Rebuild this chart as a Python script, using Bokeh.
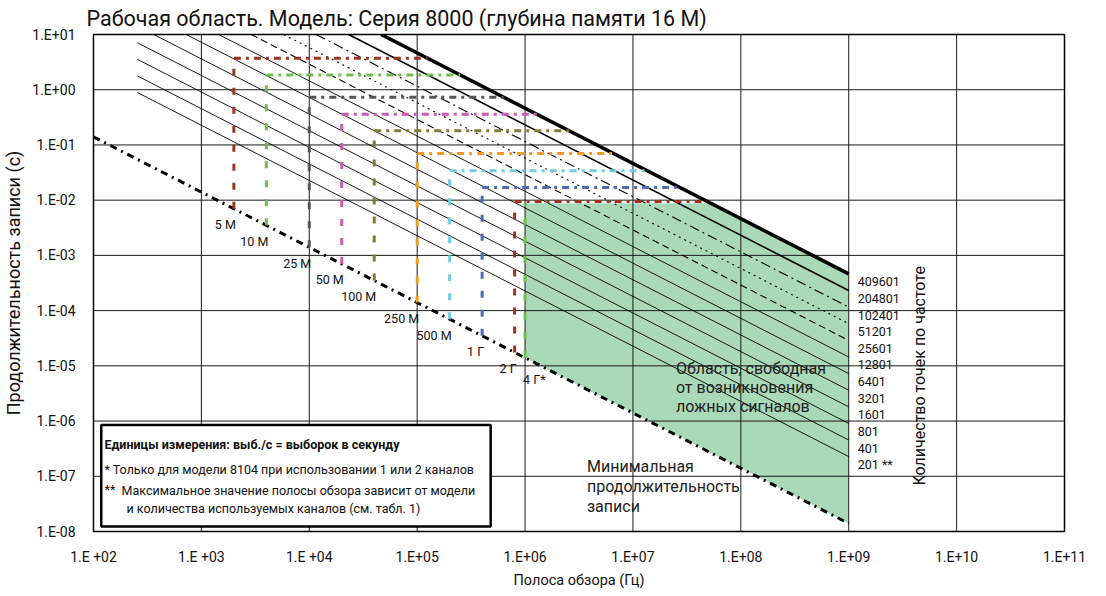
import math
from bokeh.plotting import figure
from bokeh.models import FixedTicker, CustomJSTickFormatter, ColumnDataSource
from bokeh.core.properties import value
from bokeh.embed import file_html
from bokeh.resources import INLINE

FONT = "Roboto"

# ---------------- data ----------------
x_ticks = [1e2, 1e3, 1e4, 1e5, 1e6, 1e7, 1e8, 1e9, 1e10, 1e11]
x_tick_labels = ["1.E +02", "1.E +03", "1.E +04", "1.E+05", "1.E+06",
                 "1.E+07", "1.E+08", "1.E+09", "1.E+10", "1.E+11"]
y_ticks = [1e-8, 1e-7, 1e-6, 1e-5, 1e-4, 1e-3, 1e-2, 1e-1, 1e0, 1e1]
y_tick_labels = ["1.E-08", "1.E-07", "1.E-06", "1.E-05", "1.E-04",
                 "1.E-03", "1.E-02", "1.E-01", "1.E+00", "1.E+01"]

# frequency points (constant points lines: duration = points*K/BW)
points = [201, 401, 801, 1601, 3201, 6401, 12801, 25601, 51201, 102401, 204801, 409601]
point_labels = ["201 **", "401", "801", "1601", "3201", "6401", "12801",
                "25601", "51201", "102401", "204801", "409601"]
K_SEC = 1.13          # duration*BW/points
line_bw_start = 255.0  # Hz, left end of the thin lines
line_bw_end = 1e9      # Hz

# minimum record duration: duration = MIN_C / BW
MIN_C = 14.0
min_bw = [1e2, 1e9]

# sample rates
rate_labels = ["5 M", "10 M", "25 M", "50 M", "100 M", "250 M", "500 M", "1 Г", "2 Г", "4 Г*"]
rate_bw = [2e3, 4e3, 1e4, 2e4, 4e4, 1e5, 2e5, 4e5, 8e5, 1e6]
rate_max_dur = [3.7, 1.85, 0.73, 0.36, 0.18, 0.07, 0.034, 0.017, 0.0095, 0.0088]
rate_colors = ["#9c3322", "#6cbf4b", "#555555", "#c95bb3", "#7d7d32",
               "#f39b1d", "#72cbe0", "#4d6bb5", "#9c3322", "#6cbf4b"]

# ---------------- figure ----------------
p = figure(frame_width=971, frame_height=497, x_axis_type="log", y_axis_type="log",
           x_range=(1e2, 1e11), y_range=(1e-8, 1e1),
           output_backend="svg", toolbar_location=None,
           min_border_left=87, min_border_right=32, min_border_top=27, min_border_bottom=58)
p.background_fill_color = "white"
p.border_fill_color = "white"
p.outline_line_color = "black"
p.outline_line_width = 1.5
p.xgrid.visible = False
p.ygrid.visible = False

p.title.text = "Рабочая область. Модель: Серия 8000 (глубина памяти 16 М)"
p.title.text_font = FONT
p.title.text_font_size = "21.5px"
p.title.text_font_style = "normal"
p.title.text_color = "#111111"
p.title.standoff = 7
p.title.offset = -7

for ax, ticks, labels, first in ((p.xaxis[0], x_ticks, x_tick_labels, 2),
                                 (p.yaxis[0], y_ticks, y_tick_labels, -8)):
    ax.ticker = FixedTicker(ticks=ticks, minor_ticks=[])
    ax.formatter = CustomJSTickFormatter(args=dict(labels=labels, first=first),
        code="const i = Math.round(Math.log10(tick)) - first; return labels[i] || '';")
    ax.axis_line_color = None
    ax.major_tick_line_color = None
    ax.minor_tick_line_color = None
    ax.major_label_text_font = FONT
    ax.major_label_text_font_size = "14px"
    ax.major_label_text_color = "#111111"
    ax.axis_label_text_font = FONT
    ax.axis_label_text_font_style = "normal"
    ax.axis_label_text_color = "#111111"

p.xaxis.axis_label = "Полоса обзора (Гц)"
p.yaxis.axis_label = "Продолжительность записи (с)"
p.xaxis.axis_label_text_font_size = "14.5px"
p.yaxis.axis_label_text_font_size = "18px"
p.xaxis.major_label_standoff = 11
p.xaxis.axis_label_standoff = 4
p.yaxis.major_label_standoff = 12
p.yaxis.axis_label_standoff = 5

# green alias-free region
top_dur = rate_max_dur[-1]
green_x = [rate_bw[-1], points[-1] * K_SEC / top_dur, line_bw_end, line_bw_end, rate_bw[-1]]
green_y = [top_dur, top_dur, points[-1] * K_SEC / line_bw_end,
           MIN_C / line_bw_end, MIN_C / rate_bw[-1]]
p.patch(green_x, green_y, fill_color="#aad9b8", line_color=None)

# grid lines
inner_x = x_ticks[1:-1]
inner_y = y_ticks[1:-1]
p.segment(x0=inner_x, y0=[y_ticks[0]] * len(inner_x), x1=inner_x, y1=[y_ticks[-1]] * len(inner_x),
          line_color="#1a1a1a", line_width=1)
p.segment(x0=[x_ticks[0]] * len(inner_y), y0=inner_y, x1=[x_ticks[-1]] * len(inner_y), y1=inner_y,
          line_color="#1a1a1a", line_width=1)

# constant-points lines
styles = {409601: (3.6, "solid"), 204801: (1.7, "solid"), 102401: (1.1, "10 4 2 4"),
          51201: (1.1, "2 4"), 25601: (1.1, "7 4")}
for n in points:
    x0 = max(line_bw_start, n * K_SEC / 10.0)
    w, dash = styles.get(n, (0.9, "solid"))
    p.line([x0, line_bw_end], [n * K_SEC / x0, n * K_SEC / line_bw_end],
           line_color="black", line_width=w, line_dash=dash)

# minimum duration line
p.line(min_bw, [MIN_C / b for b in min_bw], line_color="black", line_width=3, line_dash="7 5 2 5")

# sample-rate horizontal & vertical dashed lines
for i, (bw, d, c) in enumerate(zip(rate_bw, rate_max_dur, rate_colors)):
    p.line([bw, bw], [MIN_C / bw, d], line_color=c, line_width=3, line_dash="7 12")
    if i < len(rate_bw) - 1:
        p.line([bw, points[-1] * K_SEC / d], [d, d], line_color=c, line_width=3, line_dash="7 5 3 5")

# rate labels
src_r = ColumnDataSource(dict(x=rate_bw[:-1], y=[MIN_C / b for b in rate_bw[:-1]], t=rate_labels[:-1]))
p.text(x="x", y="y", text="t", source=src_r, x_offset=2, y_offset=16,
       text_align="right", text_baseline="middle", text_font=value(FONT),
       text_font_size="12.5px", text_color="#111111")
p.text(x=[rate_bw[-1]], y=[MIN_C / rate_bw[-1]], text=[rate_labels[-1]], x_offset=-2, y_offset=22,
       text_align="left", text_baseline="middle", text_font=value(FONT),
       text_font_size="12.5px", text_color="#111111")

# points labels
p.text(x=[line_bw_end] * len(points), y=[n * K_SEC / line_bw_end for n in points], text=point_labels,
       x_offset=9, y_offset=8, text_align="left", text_baseline="middle",
       text_font=value(FONT), text_font_size="12.5px", text_color="#111111")

# region notes
p.text(x=[2.5e7] * 3, y=[8.8e-6] * 3, text=["Область, свободная", "от возникновения", "ложных сигналов"],
       y_offset=[0, 19, 38], text_align="left", text_baseline="middle",
       text_font=value(FONT), text_font_size="16px", text_color="#222222")
p.text(x=[3.75e6] * 3, y=[1.48e-7] * 3, text=["Минимальная", "продолжительность", "записи"],
       y_offset=[0, 20, 40], text_align="left", text_baseline="middle",
       text_font=value(FONT), text_font_size="16px", text_color="#222222")
p.text(x=[4.54e9], y=[6.6e-6], text=["Количество точек по частоте"], angle=math.pi / 2,
       text_align="center", text_baseline="middle",
       text_font=value(FONT), text_font_size="16px", text_color="#111111")

# footnote box
p.quad(left=[1.18e2], right=[4.8e5], top=[8.5e-7], bottom=[1.23e-8],
       fill_color="white", line_color="black", line_width=2.5)
p.text(x=[126.5], y=[3.8e-7], text=["Единицы измерения: выб./с = выборок в секунду"],
       text_align="left", text_baseline="middle", text_font=value(FONT),
       text_font_size="12.5px", text_font_style="bold", text_color="#111111")
p.text(x=[126.5] * 4, y=[3.8e-7] * 4,
       text=["* Только для модели 8104 при использовании 1 или 2 каналов",
             "**", "Максимальное значение полосы обзора зависит от модели",
             "и количества используемых каналов (см. табл. 1)"],
       x_offset=[0, 0, 17, 22], y_offset=[25, 45, 46, 64],
       text_align="left", text_baseline="middle", text_font=value(FONT),
       text_font_size="12.5px", text_color="#111111")

open("out.html", "w").write(file_html(p, INLINE))
